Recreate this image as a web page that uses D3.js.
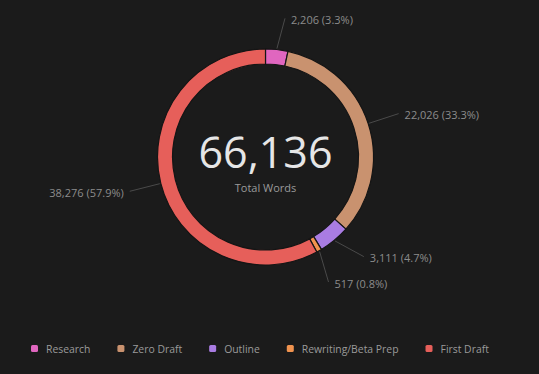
<!DOCTYPE html>
<html lang="en">
<head>
<meta charset="UTF-8">
<title>Total Words</title>
<script src="https://d3js.org/d3.v7.min.js"></script>
<style>
  html, body { margin: 0; padding: 0; background: #1b1b1b; }
  svg { display: block; font-family: "Open Sans", "Noto Sans", sans-serif; }
</style>
</head>
<body>
<svg width="539" height="374"></svg>
<script>
const categories = ["Research", "Zero Draft", "Outline", "Rewriting/Beta Prep", "First Draft"];
const wordCounts = [2206, 22026, 3111, 517, 38276];
const colors = ["#e066bf", "#c9926f", "#a97ce2", "#f0934f", "#e65f5a"];
// small angle nudges (degrees) so the lower labels do not collide
const labelNudge = [2, 0, -5, 3, 0];
const centerLabel = "Total Words";

const W = 539, H = 374;
const cx = 265.5, cy = 157;
const outerR = 108, innerR = 93;

const svg = d3.select("svg");
const total = d3.sum(wordCounts);
const data = categories.map((c, i) => ({ name: c, value: wordCounts[i], color: colors[i], nudge: labelNudge[i] }));

const pie = d3.pie().value(d => d.value).sort(null);
const arc = d3.arc().innerRadius(innerR).outerRadius(outerR);
const arcs = pie(data);

const g = svg.append("g").attr("transform", `translate(${cx},${cy})`);

g.selectAll("path.slice")
  .data(arcs)
  .enter()
  .append("path")
  .attr("class", "slice")
  .attr("d", arc)
  .attr("fill", d => d.data.color)
  .attr("stroke", "#151515")
  .attr("stroke-width", 1.2);

// leader lines + labels
const fmt = d3.format(",");
const pct = d3.format(".1f");
const labelR = 140;

arcs.forEach(d => {
  const mid = (d.startAngle + d.endAngle) / 2;
  const endA = mid + d.data.nudge * Math.PI / 180;
  const p0 = [Math.sin(mid) * (outerR + 1), -Math.cos(mid) * (outerR + 1)];
  const p1 = [Math.sin(endA) * labelR, -Math.cos(endA) * labelR];
  g.append("line")
    .attr("x1", p0[0]).attr("y1", p0[1])
    .attr("x2", p1[0]).attr("y2", p1[1])
    .attr("stroke", "#4a4a4a")
    .attr("stroke-width", 1);
  const right = p1[0] >= 0;
  g.append("text")
    .attr("x", p1[0] + (right ? 6 : -6))
    .attr("y", p1[1] + 2)
    .attr("dy", "0.35em")
    .attr("text-anchor", right ? "start" : "end")
    .attr("fill", "#8c8c8c")
    .attr("font-size", 11)
    .text(`${fmt(d.data.value)} (${pct(d.data.value / total * 100)}%)`);
});

g.append("text")
  .attr("x", 0).attr("y", -4)
  .attr("dy", "0.35em")
  .attr("text-anchor", "middle")
  .attr("fill", "#e6e6e6")
  .attr("font-size", 43)
  .text(fmt(total));

g.append("text")
  .attr("x", 0).attr("y", 31)
  .attr("dy", "0.35em")
  .attr("text-anchor", "middle")
  .attr("fill", "#9a9a9a")
  .attr("font-size", 11)
  .text(centerLabel);

// legend
const legend = svg.append("g").attr("transform", "translate(31,349)");
let lx = 0;
data.forEach(d => {
  const item = legend.append("g").attr("transform", `translate(${lx},0)`);
  item.append("rect")
    .attr("x", 0).attr("y", -4)
    .attr("width", 7).attr("height", 7)
    .attr("rx", 1.5)
    .attr("fill", d.color);
  const t = item.append("text")
    .attr("x", 15).attr("y", 0)
    .attr("dy", "0.35em")
    .attr("fill", "#9a9a9a")
    .attr("font-size", 10.4)
    .text(d.name);
  lx += 15 + t.node().getComputedTextLength() + 27;
});
</script>
</body>
</html>
